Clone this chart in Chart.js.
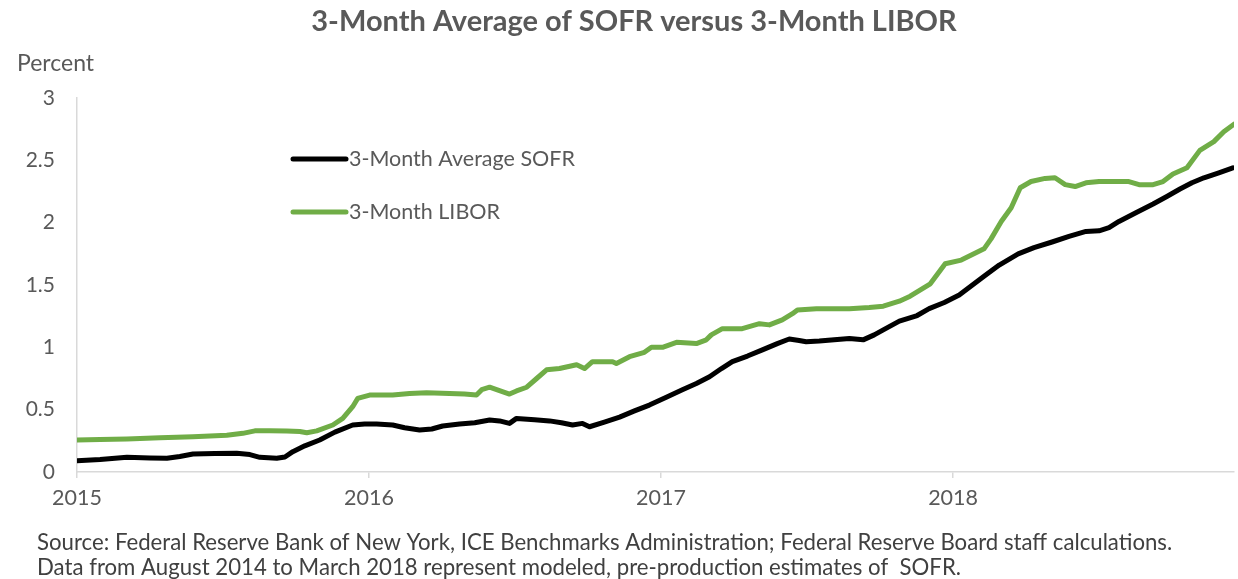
<!DOCTYPE html>
<html>
<head>
<meta charset="utf-8">
<script src="https://cdn.jsdelivr.net/npm/chart.js@4"></script>
<style>
  html, body { margin: 0; padding: 0; background: #ffffff; }
  #wrap { width: 1238px; height: 579px; position: relative; }
</style>
</head>
<body>
<div id="wrap"><canvas id="c" width="1238" height="579"></canvas></div>
<script>
// ---- Data (decimal years, percent) ----
const sofrDates = [2015.000,2015.079,2015.171,2015.250,2015.308,2015.352,2015.397,2015.472,2015.547,2015.592,2015.626,2015.684,2015.712,2015.739,2015.780,2015.831,2015.883,2015.944,2015.985,2016.026,2016.081,2016.122,2016.173,2016.215,2016.252,2016.310,2016.362,2016.413,2016.447,2016.481,2016.505,2016.567,2016.618,2016.659,2016.697,2016.731,2016.755,2016.806,2016.858,2016.909,2016.960,2017.018,2017.073,2017.121,2017.166,2017.207,2017.244,2017.296,2017.347,2017.398,2017.439,2017.473,2017.497,2017.542,2017.593,2017.645,2017.692,2017.730,2017.761,2017.816,2017.877,2017.918,2017.970,2018.021,2018.106,2018.158,2018.223,2018.277,2018.339,2018.397,2018.455,2018.500,2018.534,2018.568,2018.626,2018.685,2018.732,2018.777,2018.818,2018.859,2018.910,2018.958];
const sofrValues = [0.09,0.10,0.118,0.112,0.11,0.125,0.144,0.148,0.15,0.14,0.118,0.11,0.12,0.163,0.21,0.257,0.32,0.377,0.385,0.385,0.377,0.355,0.337,0.345,0.369,0.385,0.395,0.417,0.41,0.39,0.43,0.42,0.41,0.395,0.377,0.39,0.363,0.40,0.44,0.49,0.537,0.60,0.66,0.71,0.764,0.83,0.885,0.93,0.98,1.03,1.067,1.055,1.045,1.05,1.06,1.07,1.06,1.10,1.14,1.21,1.255,1.31,1.36,1.42,1.57,1.66,1.75,1.80,1.845,1.89,1.93,1.935,1.96,2.01,2.08,2.15,2.21,2.27,2.32,2.36,2.40,2.44];

const liborDates = [2015.000,2015.079,2015.171,2015.284,2015.397,2015.513,2015.568,2015.609,2015.660,2015.718,2015.763,2015.787,2015.821,2015.876,2015.910,2015.944,2015.961,2016.002,2016.081,2016.139,2016.197,2016.276,2016.327,2016.368,2016.386,2016.413,2016.437,2016.481,2016.505,2016.540,2016.574,2016.608,2016.652,2016.711,2016.738,2016.765,2016.834,2016.847,2016.892,2016.943,2016.967,2017.005,2017.053,2017.121,2017.155,2017.172,2017.210,2017.278,2017.337,2017.371,2017.415,2017.450,2017.467,2017.532,2017.645,2017.713,2017.761,2017.816,2017.853,2017.922,2017.973,2018.028,2018.106,2018.130,2018.165,2018.199,2018.230,2018.267,2018.315,2018.349,2018.384,2018.418,2018.455,2018.500,2018.568,2018.602,2018.637,2018.685,2018.719,2018.753,2018.801,2018.845,2018.893,2018.927,2018.962];
const liborValues = [0.257,0.26,0.265,0.275,0.283,0.294,0.31,0.33,0.33,0.329,0.325,0.315,0.33,0.377,0.43,0.524,0.59,0.617,0.617,0.63,0.636,0.63,0.625,0.617,0.66,0.68,0.66,0.625,0.65,0.68,0.75,0.82,0.83,0.86,0.83,0.885,0.885,0.87,0.925,0.96,1.00,1.00,1.04,1.03,1.06,1.10,1.15,1.15,1.19,1.18,1.22,1.27,1.30,1.31,1.31,1.32,1.33,1.37,1.41,1.51,1.67,1.70,1.79,1.87,2.01,2.12,2.28,2.33,2.355,2.36,2.305,2.29,2.32,2.33,2.33,2.33,2.305,2.305,2.33,2.39,2.44,2.58,2.65,2.73,2.79];

const seriesNames = ['3-Month Average SOFR', '3-Month LIBOR'];
const xTickYears = [2015, 2016, 2017, 2018];
const yTickValues = [0, 0.5, 1, 1.5, 2, 2.5, 3];
const yTickLabels = ['0', '0.5', '1', '1.5', '2', '2.5', '3'];
const titleText = '3-Month Average of SOFR versus 3-Month LIBOR';
const yAxisTitle = 'Percent';
const sourceLines = [
  'Source: Federal Reserve Bank of New York, ICE Benchmarks Administration; Federal Reserve Board staff calculations.',
  'Data from August 2014 to March 2018 represent modeled, pre-production estimates of  SOFR.'
];

// ---- Styles ----
const FONT = 'Lato, "Open Sans", sans-serif';
const COLORS = ['#000000', '#70ad47'];
const AXIS_GRAY = '#d9d9d9';
const TEXT_GRAY = '#595959';

const toXY = (xs, ys) => xs.map((x, i) => ({ x: x, y: ys[i] }));

const textPlugin = {
  id: 'texts',
  afterDraw(chart) {
    const ctx = chart.ctx;
    ctx.save();
    // Title
    ctx.fillStyle = TEXT_GRAY;
    ctx.font = 'bold 29px ' + FONT;
    ctx.textAlign = 'center';
    ctx.textBaseline = 'middle';
    ctx.fillText(titleText, 634, 22);
    // Y axis title
    ctx.font = '23px ' + FONT;
    ctx.textAlign = 'left';
    ctx.fillText(yAxisTitle, 17, 64);
    // Legend
    const legendY = [159, 212];
    seriesNames.forEach((name, i) => {
      ctx.strokeStyle = COLORS[i];
      ctx.lineWidth = 5;
      ctx.lineCap = 'round';
      ctx.beginPath();
      ctx.moveTo(293, legendY[i]);
      ctx.lineTo(346, legendY[i]);
      ctx.stroke();
      ctx.fillStyle = TEXT_GRAY;
      ctx.font = '21.5px ' + FONT;
      ctx.textAlign = 'left';
      ctx.textBaseline = 'middle';
      ctx.fillText(name, 349, legendY[i]);
    });
    // Source
    ctx.fillStyle = '#404040';
    ctx.font = '22.2px ' + FONT;
    ctx.textBaseline = 'middle';
    ctx.fillText(sourceLines[0], 37, 543);
    ctx.fillText(sourceLines[1], 37, 568);
    ctx.restore();
  }
};

new Chart(document.getElementById('c'), {
  type: 'line',
  data: {
    datasets: [
      {
        label: seriesNames[0],
        data: toXY(sofrDates, sofrValues),
        borderColor: COLORS[0],
        borderWidth: 5,
        pointRadius: 0,
        tension: 0,
        borderJoinStyle: 'round',
        borderCapStyle: 'round',
        fill: false
      },
      {
        label: seriesNames[1],
        data: toXY(liborDates, liborValues),
        borderColor: COLORS[1],
        borderWidth: 5,
        pointRadius: 0,
        tension: 0,
        borderJoinStyle: 'round',
        borderCapStyle: 'round',
        fill: false
      }
    ]
  },
  options: {
    responsive: false,
    animation: false,
    layout: { padding: { top: 98, right: 4, bottom: 0, left: 0 } },
    plugins: {
      legend: { display: false },
      title: { display: false },
      tooltip: { enabled: false }
    },
    scales: {
      x: {
        type: 'linear',
        min: 2015,
        max: 2018.962,
        afterBuildTicks: (scale) => { scale.ticks = xTickYears.map(v => ({ value: v })); },
        afterFit: (scale) => { scale.height = 107; },
        border: { display: true, color: AXIS_GRAY, width: 1.5 },
        grid: { display: true, drawOnChartArea: false, drawTicks: true, tickLength: 6, color: AXIS_GRAY, lineWidth: 1.5 },
        ticks: {
          color: TEXT_GRAY,
          font: { family: FONT, size: 21.5 },
          padding: 7,
          maxRotation: 0,
          autoSkip: false,
          callback: (v) => String(v)
        }
      },
      y: {
        min: 0,
        max: 3,
        afterBuildTicks: (scale) => { scale.ticks = yTickValues.map(v => ({ value: v })); },
        afterFit: (scale) => { scale.width = 77; },
        border: { display: true, color: AXIS_GRAY, width: 1.5 },
        grid: { display: true, drawOnChartArea: false, drawTicks: false, color: AXIS_GRAY },
        ticks: {
          color: TEXT_GRAY,
          font: { family: FONT, size: 21 },
          padding: 22,
          callback: (v) => yTickLabels[yTickValues.indexOf(v)]
        }
      }
    }
  },
  plugins: [textPlugin]
});
</script>
</body>
</html>
